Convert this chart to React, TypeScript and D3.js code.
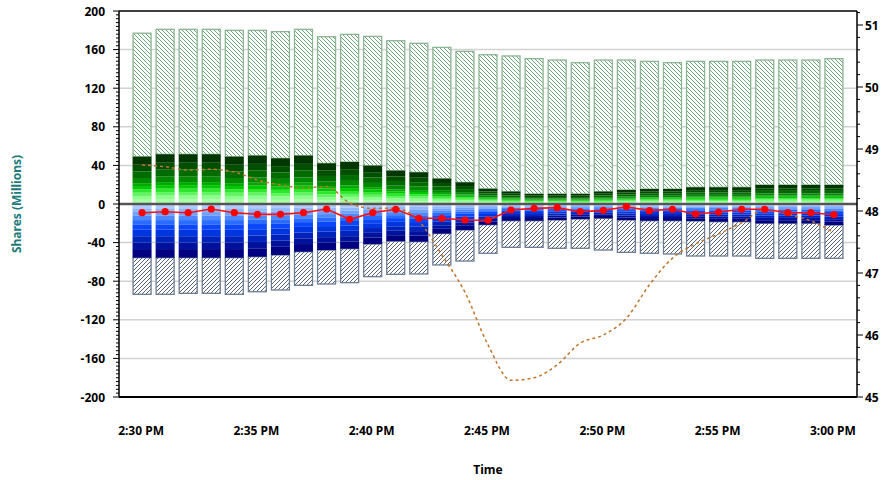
import React from "react";
import * as d3 from "d3";

// ---- data ----
const times = [
  "14:30", "14:31", "14:32", "14:33", "14:34", "14:35", "14:36", "14:37", "14:38", "14:39",
  "14:40", "14:41", "14:42", "14:43", "14:44", "14:45", "14:46", "14:47", "14:48", "14:49",
  "14:50", "14:51", "14:52", "14:53", "14:54", "14:55", "14:56", "14:57", "14:58", "14:59", "15:00",
];
// bid side depth (top of green gradient stack)
const bidDepth = [49.0, 51.5, 51.5, 51.5, 49.0, 50.1, 47.3, 50.1, 42.1, 43.5, 39.7, 34.5, 32.8, 26.2, 22.4, 15.7,
  12.8, 10.4, 10.4, 10.4, 12.8, 14.5, 15.5, 15.5, 17.3, 17.3, 17.3, 19.7, 19.7, 19.7, 19.7];
// bid side total (top of hatched bar)
const bidTotal = [177, 181, 181, 181, 180, 180, 178.6, 181, 173.4, 175.8, 173.7, 169.2, 166.5, 162.3, 158.2, 154.7,
  153.4, 150.6, 149.2, 146.4, 149.2, 149.2, 147.8, 146.4, 147.8, 147.8, 147.8, 149.2, 149.2, 149.2, 150.6];
// ask side depth (bottom of blue gradient stack)
const askDepth = [-55.6, -55.6, -55.6, -55.6, -55.6, -54.6, -52.8, -49.4, -47.7, -46.3, -41.5, -38.5, -39.0, -30.6, -26.9, -21.5,
  -17.3, -17.3, -16.6, -15.5, -14.8, -16.6, -17.3, -17.3, -17.6, -18.3, -18.3, -20, -20, -20, -21.8];
// ask side total (bottom of hatched bar)
const askTotal = [-93.6, -93.6, -92.6, -92.6, -93.6, -90.9, -89.1, -84.3, -82.9, -81.5, -75.3, -72.9, -72.5, -63.2, -59.1, -51.1,
  -44.9, -44.9, -45.9, -45.9, -47.7, -50.1, -51.1, -51.8, -53.9, -53.9, -53.9, -56.3, -56.3, -56.3, -56.3];
// net flow (red line)
const netFlow = [-9.0, -8.0, -9.0, -5.2, -9.0, -10.7, -10.7, -9.0, -5.2, -15.9, -9.0, -5.5, -14.8, -14.8, -16.6, -16.8,
  -6.2, -4.5, -3.8, -8.0, -6.6, -2.8, -6.9, -5.5, -10.4, -8.3, -5.5, -5.5, -9.0, -9.0, -11.1];
// price (dashed line, right axis)
const price = [48.742, 48.715, 48.661, 48.673, 48.629, 48.5, 48.42, 48.371, 48.395, 48.129, 48.044, 48.044, 47.839, 47.29,
  46.69, 45.84, 45.27, 45.31, 45.52, 45.87, 46.0, 46.27, 46.81, 47.24, 47.47, 47.63, 47.81, 48.02, 47.95, 47.84, 47.65];

// depth level cumulative fractions and colours
const bidLevels = [0.09, 0.17, 0.24, 0.31, 0.38, 0.44, 0.55, 0.69, 0.83, 1.0];
const bidColors = ["#a8ffa8", "#8cff8c", "#60f560", "#2ee62e", "#00c800", "#00a800", "#008a00", "#006c00", "#005000", "#003600"];
const askLevels = [0.08, 0.15, 0.22, 0.3, 0.38, 0.48, 0.6, 0.72, 0.84, 1.0];
const askColors = ["#b0ccff", "#92b8ff", "#72a2ff", "#4d88ff", "#2a6cff", "#0a48ff", "#0036e0", "#0024bb", "#00129c", "#000080"];

const xTickTimes = ["14:30", "14:35", "14:40", "14:45", "14:50", "14:55", "15:00"];
const xTickLabels = ["2:30 PM", "2:35 PM", "2:40 PM", "2:45 PM", "2:50 PM", "2:55 PM", "3:00 PM"];
const leftTicks = [200, 160, 120, 80, 40, 0, -40, -80, -120, -160, -200];
const rightTicks = [45, 46, 47, 48, 49, 50, 51];

const parse = d3.timeParse("%H:%M");

export default function App() {
  const W = 888, H = 480;
  const L = 119, R = 857, T = 11, B = 397;
  const x = d3.scaleTime().domain([parse("14:29")!, parse("15:01")!]).range([L, R]);
  const y = d3.scaleLinear().domain([-200, 200]).range([B, T]);
  const y2 = d3.scaleLinear().domain([45, 45 + (B - T) / 62]).range([B, T]);
  const bw = 19;
  const font = "'Noto Sans', 'Open Sans', sans-serif";

  const pricePath = d3.line<number>()
    .x((_, i) => x(parse(times[i])!))
    .y((d) => y2(d))
    .curve(d3.curveMonotoneX)(price)!;
  const netPath = d3.line<number>()
    .x((_, i) => x(parse(times[i])!))
    .y((d) => y(d))(netFlow)!;

  const minorLeft = d3.range(-200, 200.01, 4);
  const minorRight = d3.range(45, 51.21, 0.2);

  return (
    <svg width={W} height={H} style={{ position: "absolute", left: 0, top: 0, background: "#fff" }}>
      <defs>
        <pattern id="hatchG" patternUnits="userSpaceOnUse" width="4" height="4">
          <rect width="4" height="4" fill="#fff" />
          <path d="M0,0 L4,4 M-1,3 L1,5 M3,-1 L5,1" stroke="#5f9f6c" strokeWidth="0.9" />
        </pattern>
        <pattern id="hatchB" patternUnits="userSpaceOnUse" width="4" height="4">
          <rect width="4" height="4" fill="#fff" />
          <path d="M0,4 L4,0 M-1,1 L1,-1 M3,5 L5,3" stroke="#4c5b72" strokeWidth="0.95" />
        </pattern>
      </defs>

      {/* gridlines */}
      {leftTicks.filter((t) => t !== 200 && t !== -200 && t !== 0).map((t) => (
        <line key={"g" + t} x1={L} x2={R} y1={y(t)} y2={y(t)} stroke="#d2d2d2" strokeWidth={1.5} />
      ))}

      {/* bars */}
      {times.map((tm, i) => {
        const cx = x(parse(tm)!);
        const x0 = cx - bw / 2;
        const els: React.ReactNode[] = [];
        els.push(
          <rect key="ht" x={x0 + 0.5} y={y(bidTotal[i])} width={bw - 1} height={y(bidDepth[i]) - y(bidTotal[i])}
            fill="url(#hatchG)" stroke="#8ab592" strokeWidth={1.3} />
        );
        els.push(
          <rect key="hb" x={x0 + 0.5} y={y(askDepth[i])} width={bw - 1} height={y(askTotal[i]) - y(askDepth[i])}
            fill="url(#hatchB)" stroke="#6c7d93" strokeWidth={1.3} />
        );
        let prev = 0;
        bidLevels.forEach((f, k) => {
          const v = bidDepth[i] * f;
          els.push(
            <rect key={"g" + k} x={x0} y={y(v)} width={bw} height={y(prev) - y(v)} fill={bidColors[k]} />
          );
          prev = v;
        });
        prev = 0;
        askLevels.forEach((f, k) => {
          const v = askDepth[i] * f;
          els.push(
            <rect key={"b" + k} x={x0} y={y(prev)} width={bw} height={y(v) - y(prev)} fill={askColors[k]} />
          );
          prev = v;
        });
        return <g key={tm}>{els}</g>;
      })}

      {/* zero line */}
      <line x1={L} x2={R} y1={y(0)} y2={y(0)} stroke="#555" strokeWidth={2.5} />

      {/* price dashed line */}
      <path d={pricePath} fill="none" stroke="#c2742a" strokeWidth={1.5} strokeDasharray="3,3" />

      {/* net flow red line */}
      <path d={netPath} fill="none" stroke="#ff1010" strokeWidth={1.6} />
      {netFlow.map((v, i) => (
        <circle key={"c" + i} cx={x(parse(times[i])!)} cy={y(v)} r={3.6} fill="#ff0000" />
      ))}

      {/* frame */}
      <line x1={L} x2={R} y1={T} y2={T} stroke="#000" strokeWidth={1.5} />
      <line x1={L} x2={R} y1={B} y2={B} stroke="#000" strokeWidth={2} />
      <line x1={L} x2={L} y1={T} y2={B} stroke="#000" strokeWidth={1.5} />
      <line x1={R} x2={R} y1={T} y2={B} stroke="#000" strokeWidth={1.5} />

      {/* left axis ticks */}
      {minorLeft.map((t) => (
        <line key={"ml" + t} x1={L - (Math.round(t) % 40 === 0 ? 6 : 3)} x2={L} y1={y(t)} y2={y(t)} stroke="#000" strokeWidth={1} />
      ))}
      {leftTicks.map((t) => (
        <text key={"lt" + t} x={105} y={y(t) + 4.5} textAnchor="end" fontFamily={font} fontWeight="bold" fontSize={12} fill="#000">
          {t}
        </text>
      ))}

      {/* right axis ticks */}
      {minorRight.map((t, k) => (
        <line key={"mr" + k} x1={R} x2={R + (k % 5 === 0 ? 6 : 3)} y1={y2(t)} y2={y2(t)} stroke="#000" strokeWidth={1} />
      ))}
      {rightTicks.map((t) => (
        <text key={"rt" + t} x={865} y={y2(t) + 4.5} textAnchor="start" fontFamily={font} fontWeight="bold" fontSize={12} fill="#000">
          {t}
        </text>
      ))}

      {/* x axis labels */}
      {xTickTimes.map((tm, i) => (
        <text key={"xt" + tm} x={x(parse(tm)!) - 1} y={435} textAnchor="middle" fontFamily={font} fontWeight="bold" fontSize={12} fill="#000">
          {xTickLabels[i]}
        </text>
      ))}

      {/* axis titles */}
      <text x={(L + R) / 2} y={474} textAnchor="middle" fontFamily={font} fontWeight="bold" fontSize={12} fill="#000">
        Time
      </text>
      <text transform={`translate(21, ${y(0)}) rotate(-90)`} textAnchor="middle" fontFamily={font} fontWeight="bold" fontSize={12} fill="#1b7b7b">
        Shares (Millions)
      </text>
    </svg>
  );
}
